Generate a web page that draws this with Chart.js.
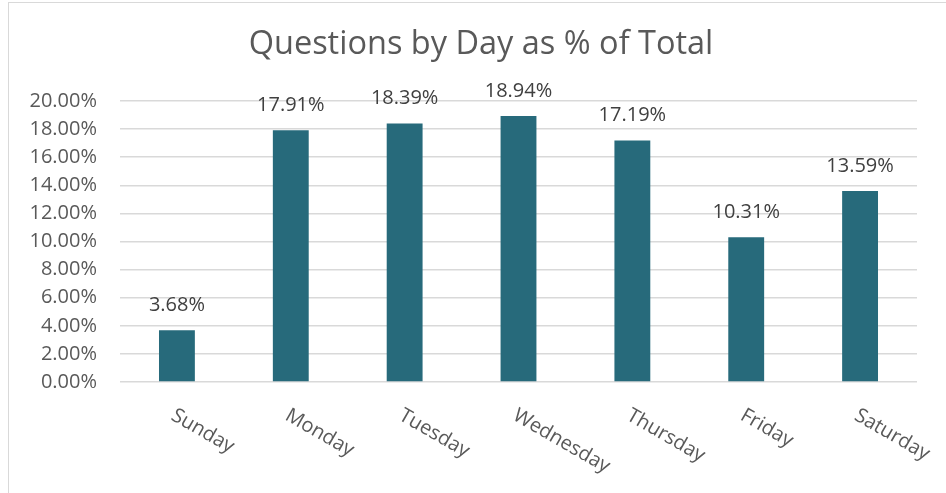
<!DOCTYPE html>
<html>
<head>
<meta charset="utf-8">
<script src="https://cdn.jsdelivr.net/npm/chart.js@4/dist/chart.umd.min.js"></script>
<style>
  html, body { margin: 0; padding: 0; background: #ffffff; }
  #wrap { width: 946px; height: 493px; position: relative; }
</style>
</head>
<body>
<div id="wrap"><canvas id="c" width="946" height="493"></canvas></div>
<script>
const categories = ["Sunday", "Monday", "Tuesday", "Wednesday", "Thursday", "Friday", "Saturday"];
const sharePercent = [3.68, 17.91, 18.39, 18.94, 17.19, 10.31, 13.59];
const chartTitle = "Questions by Day as % of Total";
const yTickMax = 20;
const yTickStep = 2;

const FONT = "'Open Sans', 'Noto Sans', sans-serif";

const frame = {
  id: 'frame',
  beforeDraw(chart) {
    const ctx = chart.ctx;
    ctx.save();
    ctx.fillStyle = '#ffffff';
    ctx.fillRect(0, 0, chart.width, chart.height);
    ctx.strokeStyle = '#d9d9d9';
    ctx.lineWidth = 1;
    ctx.strokeRect(8.5, 2.5, chart.width + 20, chart.height + 20);
    // title
    ctx.fillStyle = '#595959';
    ctx.font = '32.5px ' + FONT;
    ctx.textAlign = 'center';
    ctx.textBaseline = 'middle';
    ctx.fillText(chartTitle, 481, 45);
    ctx.restore();
  }
};

const labels = {
  id: 'labels',
  afterDatasetsDraw(chart) {
    const ctx = chart.ctx;
    const meta = chart.getDatasetMeta(0);
    const ds = chart.data.datasets[0].data;
    ctx.save();
    ctx.font = '20px ' + FONT;
    ctx.fillStyle = '#404040';
    ctx.textAlign = 'center';
    ctx.textBaseline = 'middle';
    meta.data.forEach((bar, i) => {
      ctx.fillText(ds[i].toFixed(2) + '%', bar.x, bar.y - 25);
    });
    // rotated category labels
    const xs = chart.scales.x;
    ctx.fillStyle = '#595959';
    ctx.textAlign = 'left';
    chart.data.labels.forEach((lab, i) => {
      const x = xs.getPixelForValue(i);
      ctx.save();
      ctx.translate(x - 4, xs.bottom + 32);
      ctx.rotate(Math.PI / 6);
      ctx.fillText(lab, 0, 0);
      ctx.restore();
    });
    ctx.restore();
  }
};

new Chart(document.getElementById('c'), {
  type: 'bar',
  data: {
    labels: categories,
    datasets: [{
      data: sharePercent,
      backgroundColor: '#276a7b',
      borderWidth: 0,
      categoryPercentage: 1.0,
      barPercentage: 0.315
    }]
  },
  plugins: [frame, labels],
  options: {
    responsive: false,
    animation: false,
    devicePixelRatio: 1,
    layout: { padding: { left: 0, right: 29, top: 101, bottom: 111 } },
    plugins: {
      legend: { display: false },
      tooltip: { enabled: false },
      title: { display: false }
    },
    scales: {
      x: {
        ticks: { display: false },
        grid: { display: false, drawTicks: false },
        border: { display: false }
      },
      y: {
        min: 0,
        max: yTickMax,
        afterFit(scale) { scale.width = 120; },
        ticks: {
          stepSize: yTickStep,
          padding: 23,
          color: '#595959',
          font: { family: FONT, size: 20 },
          callback: v => v.toFixed(2) + '%'
        },
        grid: { color: '#d9d9d9', lineWidth: 1.5, drawTicks: false },
        border: { display: false }
      }
    }
  }
});
</script>
</body>
</html>
